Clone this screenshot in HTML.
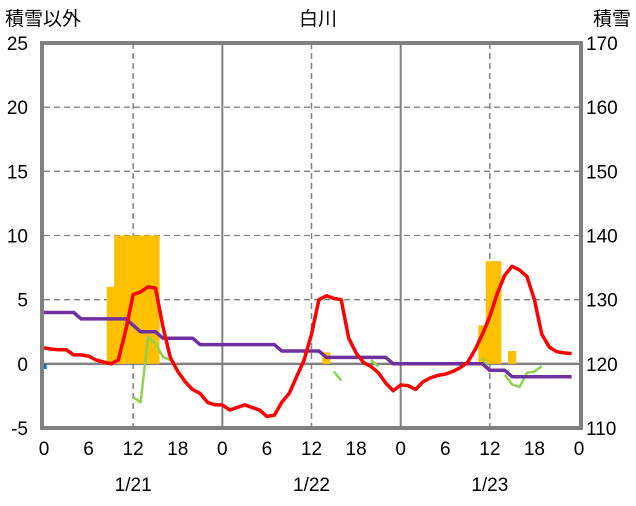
<!DOCTYPE html>
<html><head><meta charset="utf-8"><style>
body{margin:0;background:#fff;width:636px;height:501px;overflow:hidden}
text{font-family:"Liberation Sans","Noto Sans CJK JP",sans-serif;fill:#000}
</style></head><body>
<svg id="chart" width="636" height="501" xmlns="http://www.w3.org/2000/svg">
<text x="5" y="25" font-size="19">積雪以外</text>
<text x="318" y="25" font-size="19" text-anchor="middle">白川</text>
<text x="631" y="25" font-size="19" text-anchor="end">積雪</text>
<g id="grid"></g><g id="bars"></g><g id="lines"></g><g id="axes"></g>
</svg>
<script>
const leftTicks=[25,20,15,10,5,0,-5];
const rightTicks=[170,160,150,140,130,120,110];
const hourTicks=[0,6,12,18,24,30,36,42,48,54,60,66,72];
const hourLabels=["0","6","12","18","0","6","12","18","0","6","12","18","0"];
const dateLabels=["1/21","1/22","1/23"];
const dateHours=[12,36,60];
const snowfallHours=[9,10,11,12,13,14,15,38,59,60,61,63];
const snowfallValues=[6,10,10,10,10,10,10,0.9,3,8,8,1];
const precipHours=[0];
const precipValues=[-0.4];
const tempValues=[1.25,1.15,1.1,1.1,0.7,0.7,0.6,0.3,0.15,0,0.3,2.6,5.4,5.6,6.0,5.9,2.9,0.5,-0.6,-1.4,-2.0,-2.3,-3.0,-3.2,
-3.2,-3.6,-3.4,-3.2,-3.4,-3.6,-4.1,-4.0,-3.0,-2.3,-1.0,0.3,2.3,5.0,5.3,5.1,5.0,2.0,0.85,0.1,-0.2,-0.7,-1.5,-2.1,
-1.65,-1.7,-2.0,-1.4,-1.1,-0.9,-0.8,-0.6,-0.3,0.1,1.1,2.3,3.7,5.5,6.9,7.6,7.3,6.8,5.0,2.3,1.3,0.95,0.85,0.8];
const depthValues=[128,128,128,128,128,127,127,127,127,127,127,127,126,125,125,125,124,124,124,124,124,123,123,123,
123,123,123,123,123,123,123,123,122,122,122,122,122,122,121,121,121,121,121,121,121,121,121,120,
120,120,120,120,120,120,120,120,120,120,120,120,119,119,119,118,118,118,118,118,118,118,118,118];
const windValues=[null,null,null,null,null,null,null,null,null,null,null,null,-2.6,-3.0,2.1,1.6,0.55,0.3,null,null,null,null,null,null,
null,null,null,null,null,null,null,null,null,null,null,null,null,null,null,-0.6,-1.3,null,null,null,0.3,-0.2,null,null,
null,null,null,null,null,null,null,null,null,null,null,0.5,-0.6,null,-0.85,-1.6,-1.8,-0.7,-0.6,-0.2,null,null,null,null];

const L=44,R=579,T=43,B=428;
const xs=h=>L+(R-L)*h/72;
const ys=v=>T+(B-T)*(25-v)/30;
const yr=v=>ys((v-120)/2);
const NS="http://www.w3.org/2000/svg";
function mk(tag,attrs,parent){const e=document.createElementNS(NS,tag);for(const k in attrs)e.setAttribute(k,attrs[k]);document.getElementById(parent).appendChild(e);return e;}

leftTicks.forEach((t,i)=>{
  if(t!==25&&t!==-5&&t!==0){const g=mk('line',{x1:L,x2:R,y1:ys(t),y2:ys(t),stroke:'#808080','stroke-width':1.3,'stroke-dasharray':'6,4'},'grid');
  
  }
  const a=mk('text',{x:28,y:ys(t)+7,'font-size':19,'text-anchor':'end'},'axes');a.textContent=t;
  
  
  const b=mk('text',{x:586,y:ys(t)+7,'font-size':19},'axes');b.textContent=rightTicks[i];
  
  
});
[24,48].forEach(h=>{const g=mk('line',{x1:xs(h),x2:xs(h),y1:T,y2:B,stroke:'#808080','stroke-width':2},'grid');
  
  });
dateHours.forEach((h,i)=>{const g=mk('line',{x1:xs(h),x2:xs(h),y1:T,y2:B,stroke:'#808080','stroke-width':1.5,'stroke-dasharray':'6,4'},'grid');
  
  
  const t=mk('text',{x:xs(h),y:491,'font-size':19,'text-anchor':'middle'},'axes');t.textContent=dateLabels[i];
  
  });
hourTicks.forEach((h,i)=>{const t=mk('text',{x:xs(h),y:455,'font-size':19,'text-anchor':'middle'},'axes');t.textContent=hourLabels[i];
  
  });
const bw=(R-L)/72;
snowfallHours.forEach((h,i)=>{const v=snowfallValues[i];const r=mk('rect',{x:xs(h)-bw/2-0.4,y:ys(v),width:bw+0.8,height:ys(0)-ys(v),fill:'#FFC000'},'bars');
  
  });
precipHours.forEach((h,i)=>{const v=precipValues[i];const x0=Math.max(L,xs(h)-bw/2);const r=mk('rect',{x:x0,y:ys(0),width:xs(h)+bw/2-x0-1,height:ys(v)-ys(0),fill:'#0070C0'},'bars');
  
  });
const zl=mk('line',{x1:L,x2:R,y1:ys(0),y2:ys(0),stroke:'#808080','stroke-width':2.5},'grid');


function series(vals,f,color,w,name){let d='',pen=false;vals.forEach((v,h)=>{if(v===null){pen=false;return;}d+=(pen?'L':'M')+xs(h).toFixed(1)+','+f(v).toFixed(1);pen=true;});
  const p=mk('path',{d:d,fill:'none',stroke:color,'stroke-width':w,'stroke-linejoin':'round'},'lines');
  
  }
series(windValues,ys,'#92D050',2.5,'green-series-line');
series(depthValues,yr,'#7030A0',3.5,'snow-depth-line');
series(tempValues,ys,'#FF0000',3.5,'temperature-line');
const fr=mk('rect',{x:L-2,y:T,width:R-L+4,height:B-T,fill:'none',stroke:'#808080','stroke-width':4},'axes');


</script>
</body></html>
